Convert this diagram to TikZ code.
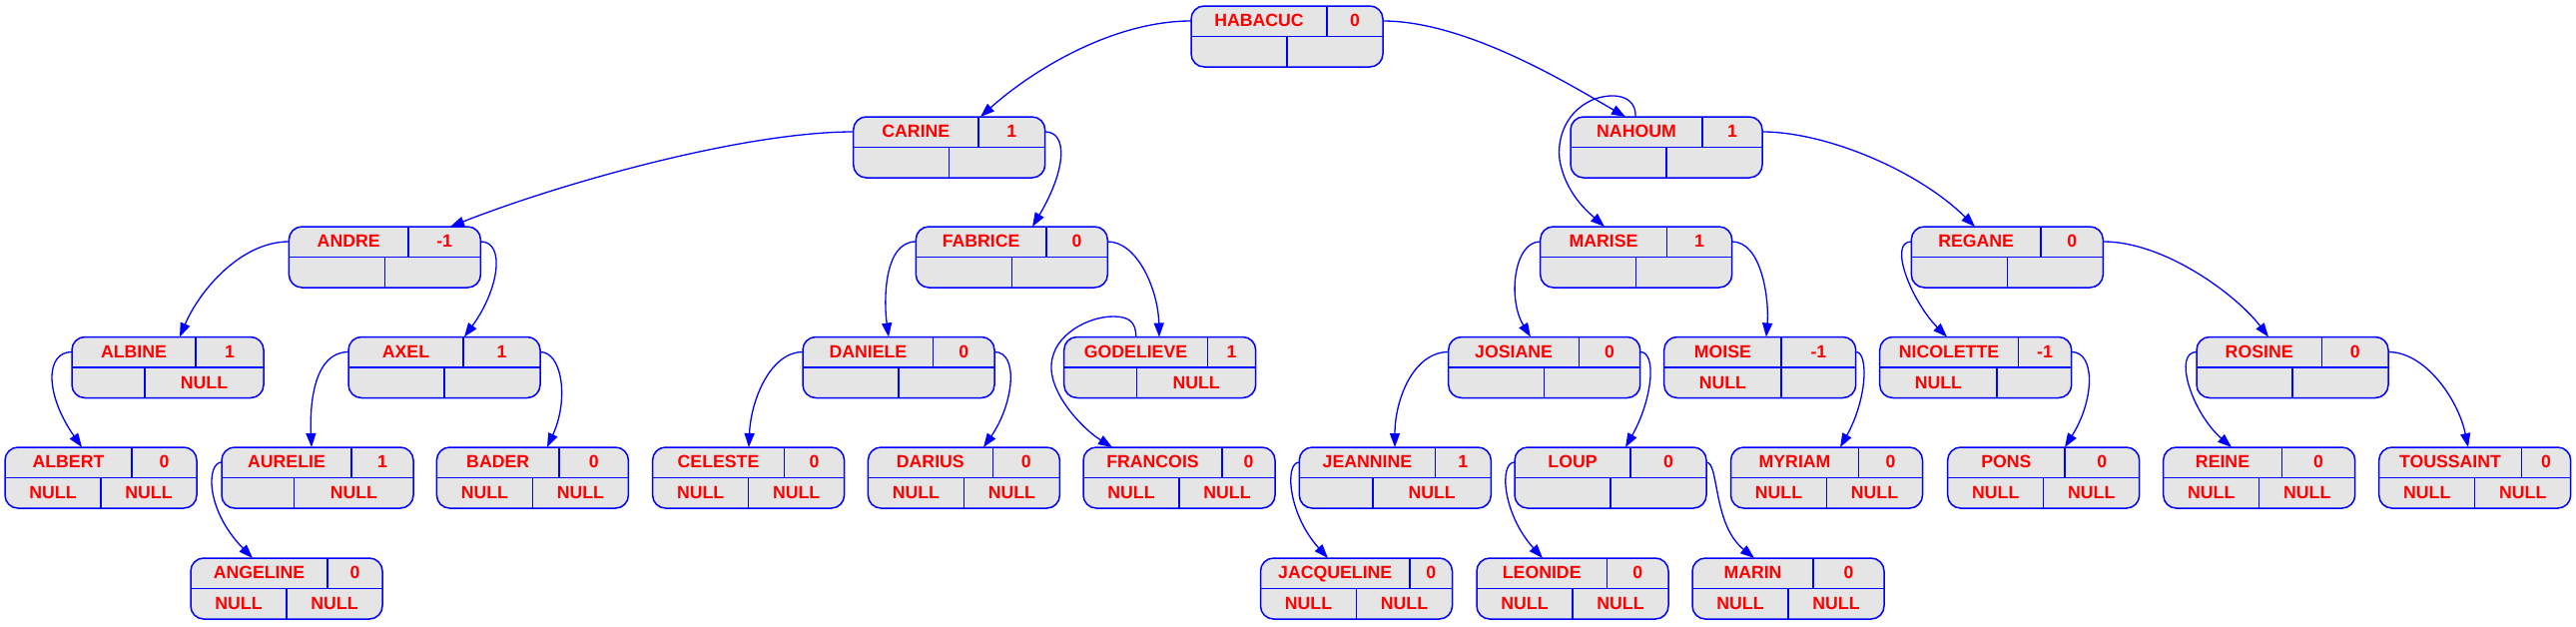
\documentclass[tikz,border=0pt]{standalone}
\usepackage{fontspec}
\setmainfont{Liberation Sans}
\usetikzlibrary{arrows.meta}
\definecolor{recfill}{HTML}{E5E5E5}
\definecolor{recblue}{HTML}{0000FF}
\definecolor{recred}{HTML}{FF0000}
\tikzset{
  recbox/.style={draw=recblue, fill=recfill, line width=1.5pt, rounded corners=13pt,
    minimum width=192pt, minimum height=61pt, inner sep=0pt, outer sep=0pt},
  recline/.style={draw=recblue, line width=1.5pt},
  rectext/.style={anchor=base, inner sep=0pt, text=recred,
    font=\fontsize{17.7}{20}\selectfont\bfseries},
  edge/.style={draw=recblue, line width=1.3pt, -{Triangle[length=14pt,width=10pt]}}
}
% #1 name, #2 left x, #3 top y, #4 top divider x, #5 bottom divider x,
% #6 value, #7 bottom-left text, #8 bottom-right text
\newcommand{\rec}[8]{%
  \node[recbox, anchor=north west] (#1) at (#2,#3) {};
  \draw[recline] (#2,#3+30.5) -- (#2+192,#3+30.5);
  \draw[recline] (#4,#3) -- (#4,#3+30.5);
  \draw[recline] (#5,#3+30.5) -- (#5,#3+61);
  \node[rectext] (#1-n) at ({(#2+#4)/2},#3+20.7) {#1};
  \node[rectext] (#1-v) at ({(#4+#2+192)/2},#3+20.7) {#6};
  \node[rectext] (#1-bl) at ({(#2+#5)/2},#3+51.5) {#7};
  \node[rectext] (#1-br) at ({(#5+#2+192)/2},#3+51.5) {#8};
  \coordinate (#1-l) at (#2,#3+15);
  \coordinate (#1-r) at (#2+192,#3+15);
}
\begin{document}
\begin{tikzpicture}[x=1pt, y=-1pt]
\useasboundingbox (0,0) rectangle (2580,627);
% level 0
\rec{HABACUC}{1193}{6}{1329}{1289}{0}{}{}
% level 1
\rec{CARINE}{854.7}{117}{980}{950.7}{1}{}{}
\rec{NAHOUM}{1573}{117}{1705}{1669}{1}{}{}
% level 2
\rec{ANDRE}{289.4}{227}{409}{385.4}{-1}{}{}
\rec{FABRICE}{917.3}{227}{1048}{1013.3}{0}{}{}
\rec{MARISE}{1542.7}{227}{1669.3}{1638.7}{1}{}{}
\rec{REGANE}{1914.3}{227}{2044}{2010.3}{0}{}{}
% level 3
\rec{ALBINE}{72}{337.5}{196}{145}{1}{}{NULL}
\rec{AXEL}{349}{337.5}{464}{445}{1}{}{}
\rec{DANIELE}{804}{337.5}{934.7}{900}{0}{}{}
\rec{GODELIEVE}{1065.7}{337.5}{1209.3}{1138.7}{1}{}{NULL}
\rec{JOSIANE}{1450.7}{337.5}{1581.3}{1546.7}{0}{}{}
\rec{MOISE}{1666.7}{337.5}{1784}{1784}{-1}{NULL}{}
\rec{NICOLETTE}{1882.7}{337.5}{2021.3}{2000}{-1}{NULL}{}
\rec{ROSINE}{2200}{337.5}{2325.3}{2296}{0}{}{}
% level 4
\rec{ALBERT}{5}{448}{132}{101}{0}{NULL}{NULL}
\rec{AURELIE}{222}{448}{352}{294.7}{1}{}{NULL}
\rec{BADER}{437.4}{448}{560}{533.4}{0}{NULL}{NULL}
\rec{CELESTE}{653.6}{448}{785.4}{749.6}{0}{NULL}{NULL}
\rec{DARIUS}{869.4}{448}{994.3}{965.4}{0}{NULL}{NULL}
\rec{FRANCOIS}{1085}{448}{1224}{1181}{0}{NULL}{NULL}
\rec{JEANNINE}{1301.3}{448}{1437.5}{1375}{1}{}{NULL}
\rec{LOUP}{1517}{448}{1633}{1613}{0}{}{}
\rec{MYRIAM}{1733.5}{448}{1861.6}{1829.5}{0}{NULL}{NULL}
\rec{PONS}{1950.7}{448}{2068}{2046.7}{0}{NULL}{NULL}
\rec{REINE}{2166.7}{448}{2285.3}{2262.7}{0}{NULL}{NULL}
\rec{TOUSSAINT}{2382.7}{448}{2525.3}{2478.7}{0}{NULL}{NULL}
% level 5
\rec{ANGELINE}{191}{559}{328}{287}{0}{NULL}{NULL}
\rec{JACQUELINE}{1262.5}{559}{1412}{1358.5}{0}{NULL}{NULL}
\rec{LEONIDE}{1479}{559}{1609.4}{1575}{0}{NULL}{NULL}
\rec{MARIN}{1695}{559}{1816}{1791}{0}{NULL}{NULL}
% edges
\draw[edge] (HABACUC-l) .. controls +(-80,0) and +(50,-45) .. ([xshift=127.3pt]CARINE.north west);
\draw[edge] (HABACUC-r) .. controls +(85,0) and +(-52,-30) .. ([xshift=55pt]NAHOUM.north west);
\draw[edge] (CARINE-l) .. controls +(-110,0) and +(112,-44) .. ([xshift=161.6pt]ANDRE.north west);
\draw[edge] (CARINE-r) .. controls +(23,0) and +(34,-57) .. ([xshift=116.7pt]FABRICE.north west);
\draw[edge] ([xshift=65pt]NAHOUM.north west) .. controls (1639,95) and (1615,92) .. (1595,100)
   .. controls (1565,113) and (1558,145) .. (1563,165)
   .. controls (1570,195) and (1590,212) .. ([xshift=64.3pt]MARISE.north west);
\draw[edge] (NAHOUM-r) .. controls +(63,0) and +(-58,-57) .. ([xshift=63.7pt]REGANE.north west);
\draw[edge] (ANDRE-l) .. controls +(-48,0) and +(20,-47) .. ([xshift=108pt]ALBINE.north west);
\draw[edge] (ANDRE-r) .. controls +(25,0) and +(35,-48) .. ([xshift=116pt]AXEL.north west);
\draw[edge] (FABRICE-l) .. controls +(-32,0) and +(-5,-37) .. ([xshift=86pt]DANIELE.north west);
\draw[edge] (FABRICE-r) .. controls +(30,0) and +(-1,-47) .. ([xshift=95.3pt]GODELIEVE.north west);
\draw[edge] (MARISE-l) .. controls +(-27,0) and +(-23,-37) .. ([xshift=82.3pt]JOSIANE.north west);
\draw[edge] (MARISE-r) .. controls +(30,0) and +(3,-37) .. ([xshift=102.3pt]MOISE.north west);
\draw[edge] (REGANE-l) .. controls +(-24,0) and +(-35,-35) .. ([xshift=67.3pt]NICOLETTE.north west);
\draw[edge] (REGANE-r) .. controls +(62,0) and +(-32,-42) .. ([xshift=72pt]ROSINE.north west);
\draw[edge] (ALBINE-l) .. controls +(-27,0) and +(-37,-53) .. ([xshift=77pt]ALBERT.north west);
\draw[edge] (AXEL-l) .. controls +(-33,0) and +(-2,-48) .. ([xshift=90pt]AURELIE.north west);
\draw[edge] (AXEL-r) .. controls +(22,0) and +(22,-48) .. ([xshift=110.6pt]BADER.north west);
\draw[edge] (DANIELE-l) .. controls +(-32,0) and +(2,-48) .. ([xshift=96.4pt]CELESTE.north west);
\draw[edge] (DANIELE-r) .. controls +(25,0) and +(30,-43) .. ([xshift=115.6pt]DARIUS.north west);
\draw[edge] ([xshift=72pt]GODELIEVE.north west) .. controls (1138,322) and (1130,317) .. (1115,317)
   .. controls (1090,317) and (1055,335) .. (1053,365)
   .. controls (1051,395) and (1085,430) .. ([xshift=29pt]FRANCOIS.north west);
\draw[edge] (JOSIANE-l) .. controls +(-35,0) and +(0,-48) .. ([xshift=95.7pt]JEANNINE.north west);
\draw[edge] (JOSIANE-r) .. controls +(17,0) and +(27,-48) .. ([xshift=111pt]LOUP.north west);
\draw[edge] (MOISE-r) .. controls +(13,0) and +(27,-48) .. ([xshift=109.5pt]MYRIAM.north west);
\draw[edge] (NICOLETTE-r) .. controls +(24,0) and +(30,-48) .. ([xshift=117.3pt]PONS.north west);
\draw[edge] (ROSINE-l) .. controls +(-24,0) and +(-40,-35) .. ([xshift=68.3pt]REINE.north west);
\draw[edge] (ROSINE-r) .. controls +(37,0) and +(-10,-48) .. ([xshift=89.3pt]TOUSSAINT.north west);
\draw[edge] (AURELIE-l) .. controls +(-15,0) and +(-48,-49) .. ([xshift=62pt]ANGELINE.north west);
\draw[edge] (JEANNINE-l) .. controls +(-15,0) and +(-40,-44) .. ([xshift=67.5pt]JACQUELINE.north west);
\draw[edge] (LOUP-l) .. controls +(-16,0) and +(-40,-44) .. ([xshift=66pt]LEONIDE.north west);
\draw[edge] (LOUP-r) .. controls +(13,0) and +(-42,-34) .. ([xshift=62pt]MARIN.north west);
\end{tikzpicture}
\end{document}
